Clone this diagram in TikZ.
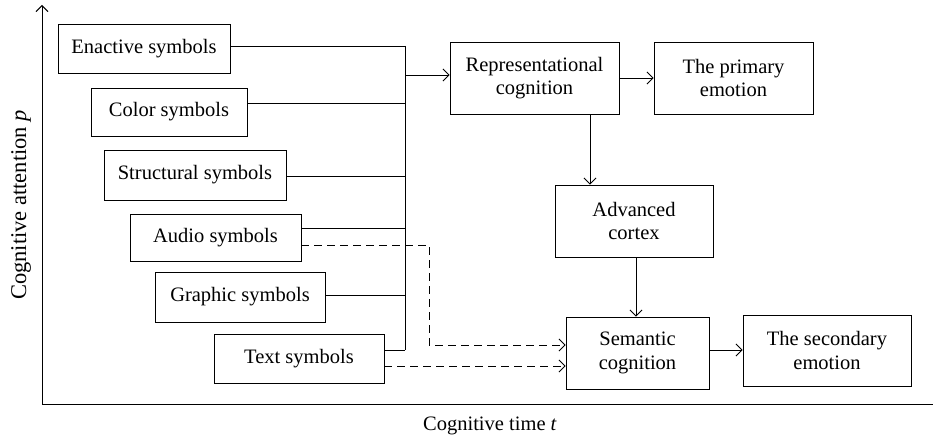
\documentclass[tikz,border=0pt]{standalone}
\usepackage{fontspec}
\setmainfont{Liberation Serif}
\usetikzlibrary{arrows.meta}
\newcommand{\fz}{\fontsize{20.5}{23.6}\selectfont}
\begin{document}
\begin{tikzpicture}[x=1pt,y=-1pt,line width=0.9pt,
  box/.style={draw,rectangle,inner sep=0pt,align=center,font=\fz},
  arr/.style={-{Straight Barb[length=6pt,width=12pt]}},
  dsh/.style={dash pattern=on 8pt off 5pt}]
\useasboundingbox (0,0) rectangle (935,441);
% axes
\coordinate (O) at (42,404);
\coordinate (Ytop) at (42,5);
\coordinate (Xend) at (933,404);
\draw[arr] (O) -- (Ytop);
\draw (O) -- (Xend);
\node[font=\fontsize{22.5}{26}\selectfont,rotate=90,inner sep=0pt] (ylab) at (21,205) {Cognitive attention \textit{p}};
\node[font=\fz,inner sep=0pt] (xlab) at (490,426) {Cognitive time \textit{t}};
% symbol boxes
\node[box,minimum width=172pt,minimum height=49pt] (enact) at (144,48.5) {Enactive symbols};
\node[box,minimum width=156pt,minimum height=48pt] (color) at (169,112) {Color symbols};
\node[box,minimum width=182pt,minimum height=50pt] (struct) at (195,175) {Structural symbols};
\node[box,minimum width=171pt,minimum height=47pt] (audio) at (215.5,237.5) {Audio symbols};
\node[box,minimum width=170pt,minimum height=50pt] (graph) at (240,297) {Graphic symbols};
\node[box,minimum width=170pt,minimum height=49pt] (text) at (299,358.5) {Text symbols};
% process boxes
\node[box,minimum width=169pt,minimum height=72pt] (rep) at (534.5,78) {Representational\\cognition};
\node[box,minimum width=159pt,minimum height=72pt] (prim) at (733.5,78) {The primary\\emotion};
\node[box,minimum width=158pt,minimum height=72pt] (adv) at (634,221) {Advanced\\cortex};
\node[box,minimum width=143pt,minimum height=72pt] (sem) at (637.5,353) {Semantic\\cognition};
\node[box,minimum width=168pt,minimum height=71pt] (sec) at (827,350.5) {The secondary\\emotion};
% bus
\coordinate (bE) at (405,46);
\coordinate (bC) at (405,103);
\coordinate (bS) at (405,176);
\coordinate (bA) at (405,228);
\coordinate (bG) at (405,295);
\coordinate (bT) at (405,350);
\coordinate (bR) at (405,75);
\draw (bE) -- (bT);
\draw (enact.east |- bE) -- (bE);
\draw (color.east |- bC) -- (bC);
\draw (struct.east |- bS) -- (bS);
\draw (audio.east |- bA) -- (bA);
\draw (graph.east |- bG) -- (bG);
\draw (text.east |- bT) -- (bT);
\draw[arr] (bR) -- (rep.west |- bR);
% process arrows
\draw[arr] (rep) -- (prim);
\coordinate (xa) at (590,0);
\draw[arr] (rep.south -| xa) -- (adv.north -| xa);
\coordinate (xs) at (636,0);
\draw[arr] (adv.south -| xs) -- (sem.north -| xs);
\coordinate (ys) at (0,350);
\draw[arr] (sem.east |- ys) -- (sec.west |- ys);
% dashed
\coordinate (aD) at (0,245);
\coordinate (kD) at (429,345);
\draw[arr,dsh] (audio.east |- aD) -| (kD) -- (sem.west |- kD);
\coordinate (tD) at (0,366);
\draw[arr,dsh] (text.east |- tD) -- (sem.west |- tD);
\end{tikzpicture}
\end{document}
